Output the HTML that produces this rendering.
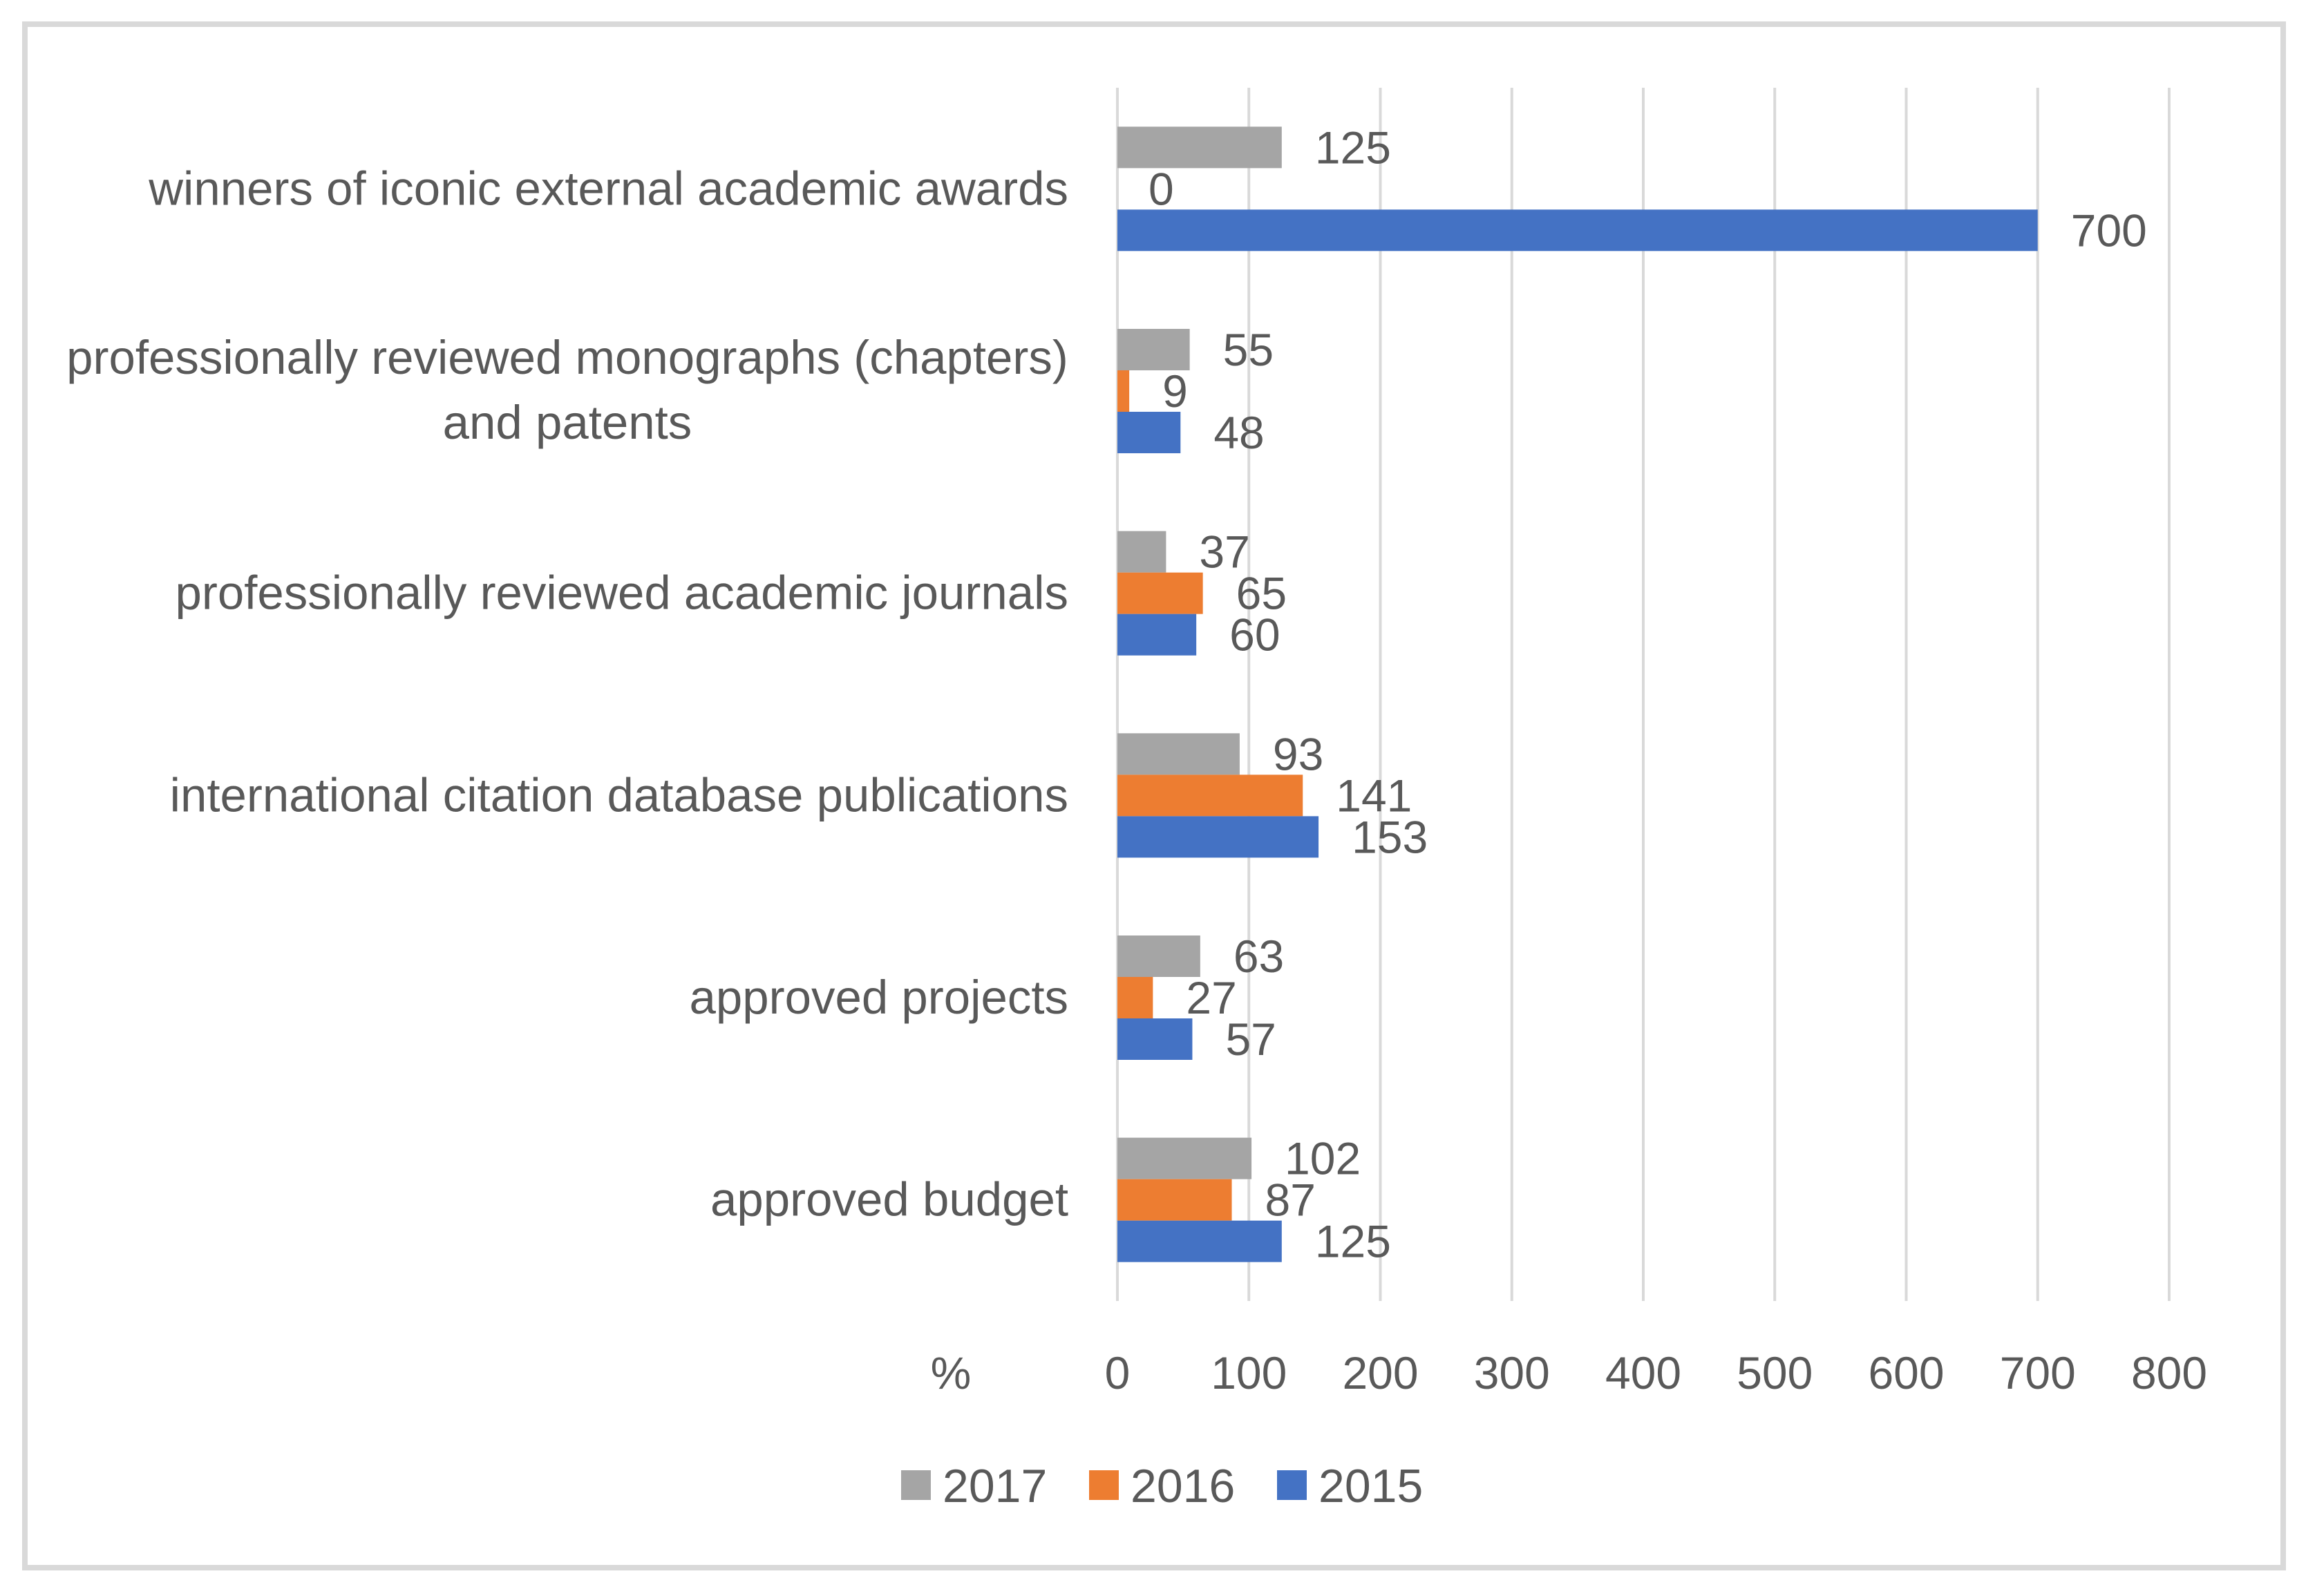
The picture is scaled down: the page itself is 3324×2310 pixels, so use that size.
<!DOCTYPE html>
<html><head><meta charset="utf-8"><style>
html,body{margin:0;padding:0;background:#fff;}
svg{display:block;}
text{font-family:"Liberation Sans",sans-serif;fill:#595959;}
</style></head><body>
<svg id="chart" width="3324" height="2310" viewBox="0 0 3324 2310" xmlns="http://www.w3.org/2000/svg">
<rect x="36" y="35" width="3268" height="2234" fill="#fff" stroke="#d9d9d9" stroke-width="8"/>
<g id="grid"></g><g id="bars"></g><g id="labels"></g>
</svg>
<script>
const categories = [["winners of iconic external academic awards"],["professionally reviewed monographs (chapters)","and patents"],["professionally reviewed academic journals"],["international citation database publications"],["approved projects"],["approved budget"]];
const series = ["2017","2016","2015"];
const values2017 = [125,55,37,93,63,102];
const values2016 = [0,9,65,141,27,87];
const values2015 = [700,48,60,153,57,125];
const ticks = [0,100,200,300,400,500,600,700,800];
const colors = ["#a5a5a5","#ed7d31","#4472c4"];
const NS="http://www.w3.org/2000/svg";
const x0=1617,x1=3139,yTop=127,yBot=1883,xMax=800;
const xs=v=>x0+(x1-x0)*v/xMax;
const band=(yBot-yTop)/categories.length, barH=60;
function mk(tag,attrs,parent){const e=document.createElementNS(NS,tag);for(const k in attrs)e.setAttribute(k,attrs[k]);document.getElementById(parent).appendChild(e);return e;}
ticks.forEach(t=>{
  const l=mk('line',{x1:xs(t),x2:xs(t),y1:yTop,y2:yBot,stroke:'#d9d9d9','stroke-width':4},'grid');
  
  
  const tx=mk('text',{x:xs(t),y:2010,'text-anchor':'middle','font-size':66},'labels');
  tx.textContent=t;
  
  
});
const pct=mk('text',{x:1376,y:2010,'text-anchor':'middle','font-size':66},'labels');
pct.textContent='%';


const data=[values2017,values2016,values2015];
categories.forEach((c,i)=>{
  const cy=yTop+band*(i+0.5);
  if(c.length===1){
    const t=mk('text',{x:1546,y:cy+23,'text-anchor':'end','font-size':69},'labels');
    t.textContent=c[0];
    
    
  } else {
    c.forEach((s,j)=>{
      const t=mk('text',{x:821,y:cy-25+j*94,'text-anchor':'middle','font-size':69},'labels');
      t.textContent=s;
      
      
    });
  }
  data.forEach((arr,s)=>{
    const y=cy-1.5*barH+s*barH;
    const r=mk('rect',{x:x0,y:y,width:xs(arr[i])-x0,height:barH,fill:colors[s]},'bars');
    
    
    const t=mk('text',{x:xs(arr[i])+(arr[i]===0?45:48),y:y+barH/2+23,'font-size':66},'labels');
    t.textContent=arr[i];
    
    
  });
});
const legX=[1304,1576,1848];
series.forEach((s,k)=>{
  const r=mk('rect',{x:legX[k],y:2128,width:43,height:43,fill:colors[k]},'labels');
  
  
  const t=mk('text',{x:legX[k]+60,y:2174,'font-size':68},'labels');
  t.textContent=s;
  
  
});
</script>
</body></html>
